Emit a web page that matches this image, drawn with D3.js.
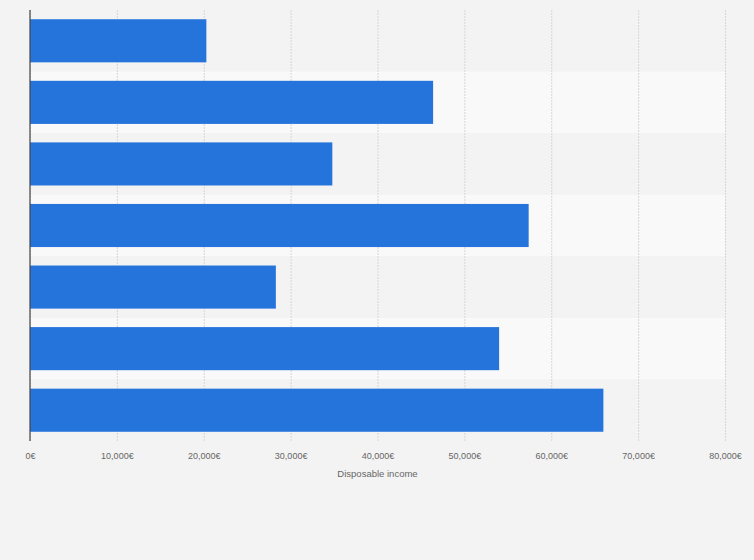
<!DOCTYPE html>
<html>
<head>
<meta charset="utf-8">
<script src="https://cdn.jsdelivr.net/npm/d3@7"></script>
<style>
  html, body { margin: 0; padding: 0; background: #f3f3f3; }
  svg { display: block; font-family: "Liberation Sans", Arial, sans-serif; }
</style>
</head>
<body>
<script>
// categories are not printed on the chart, only their order matters
const categories = ["Row 1", "Row 2", "Row 3", "Row 4", "Row 5", "Row 6", "Row 7"];
const incomes = [20300, 46400, 34800, 57400, 28300, 54000, 66000];
const tickValues = [0, 10000, 20000, 30000, 40000, 50000, 60000, 70000, 80000];
const axisTitle = "Disposable income";

const width = 754, height = 560;
const marginTop = 10, marginRight = 29, marginBottom = 119, marginLeft = 30;

const data = categories.map((c, i) => ({ cat: c, value: incomes[i] }));

const svg = d3.select("body").append("svg")
    .attr("width", width)
    .attr("height", height);

svg.append("rect")
    .attr("width", width).attr("height", height)
    .attr("fill", "#f3f3f3");

const x = d3.scaleLinear([0, 80000], [marginLeft, width - marginRight]);
const y = d3.scaleBand(categories, [marginTop, height - marginBottom]).paddingInner(0.3).paddingOuter(0.15);
const band = d3.scaleBand(categories, [marginTop, height - marginBottom]);

// alternating row bands
svg.append("g")
  .selectAll()
  .data(categories.filter((d, i) => i % 2 == 1))
  .join("rect")
    .attr("x", marginLeft)
    .attr("y", d => band(d))
    .attr("width", x(80000) - marginLeft)
    .attr("height", band.bandwidth())
    .attr("fill", "#f9f9f9");

// x axis with dashed grid lines
const fmt = d3.format(",");
svg.append("g")
    .attr("transform", `translate(0,${height - marginBottom})`)
    .call(d3.axisBottom(x).tickValues(tickValues).tickFormat(d => fmt(d) + "€")
        .tickSize(-(height - marginBottom - marginTop)).tickPadding(12))
    .call(g => g.select(".domain").remove())
    .call(g => g.selectAll(".tick line")
        .attr("stroke", "#d6d6d6")
        .attr("stroke-dasharray", "2,1"))
    .call(g => g.selectAll(".tick text")
        .attr("fill", "#666")
        .attr("font-size", 9));

// bars
svg.append("g")
    .attr("fill", "#2574db")
  .selectAll()
  .data(data)
  .join("rect")
    .attr("x", x(0))
    .attr("y", d => y(d.cat))
    .attr("width", d => x(d.value) - x(0))
    .attr("height", y.bandwidth());

// left axis line
svg.append("line")
    .attr("x1", x(0)).attr("x2", x(0))
    .attr("y1", marginTop).attr("y2", height - marginBottom)
    .attr("stroke", "#444")
    .attr("stroke-width", 1.2);

svg.append("text")
    .attr("x", (x(0) + x(80000)) / 2)
    .attr("y", height - marginBottom + 36)
    .attr("text-anchor", "middle")
    .attr("fill", "#666")
    .attr("font-size", 9.5)
    .text(axisTitle);
</script>
</body>
</html>
